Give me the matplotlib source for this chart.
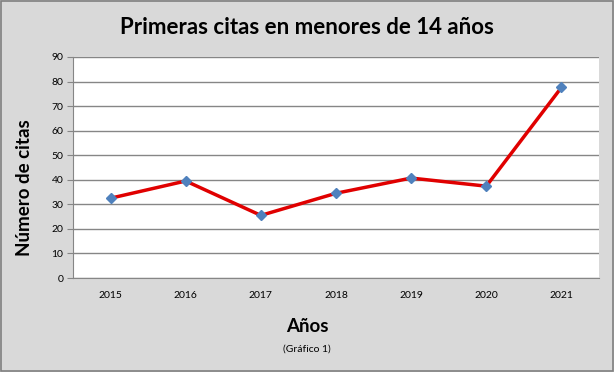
import matplotlib
matplotlib.use("Agg")
import matplotlib.pyplot as plt

years = ["2015", "2016", "2017", "2018", "2019", "2020", "2021"]
citas = [32.5, 39.5, 25.5, 34.5, 40.7, 37.4, 77.6]
yticks = [0, 10, 20, 30, 40, 50, 60, 70, 80, 90]

plt.rcParams['font.family'] = ['Lato', 'DejaVu Sans']

fig = plt.figure(figsize=(6.14, 3.72), dpi=100, facecolor='#d9d9d9')
ax = fig.add_axes([73/614, 1-278/372, (599-73)/614, (278-57)/372])
ax.set_facecolor('white')
x = list(range(len(years)))
ax.plot(x, citas, color='#e00000', lw=2.5, zorder=3)
ax.plot(x, citas, linestyle='none', marker='D', ms=5.5, color='#4f81bd', zorder=4)
ax.set_xlim(-0.5, len(years)-0.5)
ax.set_ylim(0, 90)
ax.set_yticks(yticks)
ax.set_xticks(x)
ax.set_xticklabels(years)
ax.yaxis.grid(True, color='#868686', lw=1)
ax.set_axisbelow(True)
for s in ['top', 'right']:
    ax.spines[s].set_visible(False)
for s in ['left', 'bottom']:
    ax.spines[s].set_color('#868686')
ax.tick_params(axis='y', colors='#868686', length=4, labelcolor='black', labelsize=7.5, pad=3)
ax.tick_params(axis='x', length=0, labelcolor='black', labelsize=7.5, pad=9)

fig.text(0.5, 1-27/372, "Primeras citas en menores de 14 años", ha='center', va='center',
         fontsize=16, fontweight='bold')
fig.text(25/614, 1-188/372, "Número de citas", ha='center', va='center', rotation=90,
         fontsize=13.5, fontweight='bold')
fig.text(0.5, 1-327/372, "Años", ha='center', va='center', fontsize=13.5, fontweight='bold')
fig.text(0.5, 1-349/372, "(Gráfico 1)", ha='center', va='center', fontsize=7.5)

border = plt.Rectangle((0.002, 0.003), 0.996, 0.994, transform=fig.transFigure,
                       fill=False, edgecolor='#7f7f7f', lw=1.2)
fig.patches.append(border)

fig.savefig("out.png", dpi=100, facecolor=fig.get_facecolor())
